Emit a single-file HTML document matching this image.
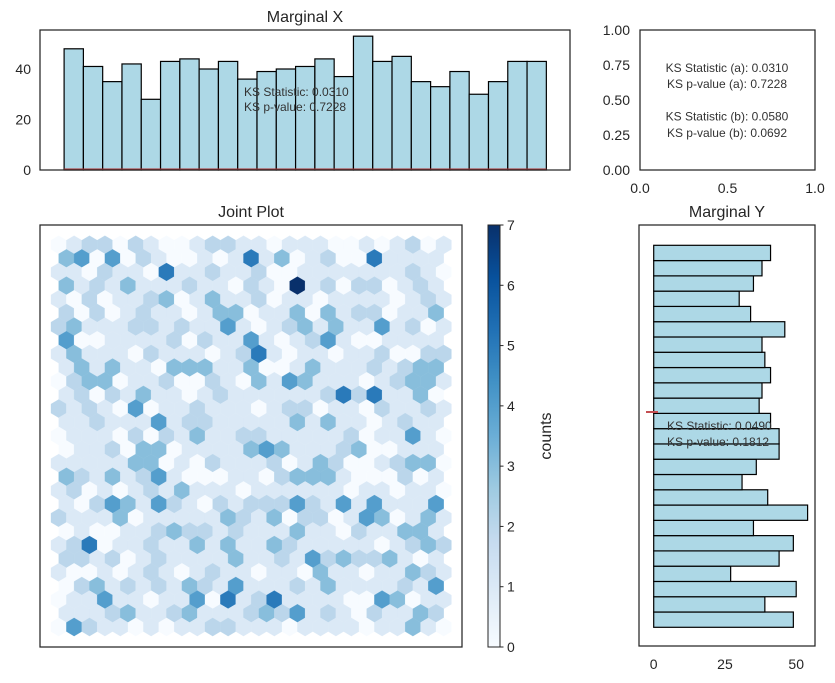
<!DOCTYPE html>
<html><head><meta charset="utf-8"><style>
html,body{margin:0;padding:0;background:#fff;width:835px;height:683px;overflow:hidden}
svg{display:block;font-family:"Liberation Sans",sans-serif}
</style></head><body>
<svg id="fig" width="835" height="683" viewBox="0 0 835 683">
<g id="mx"></g>
<g id="tb"></g>
<g id="jp"></g>
<g id="cb"></g>
<g id="my"></g>
</svg>
<script>
// ---- data ----
const histXCounts = [48,41,35,42,28,43,44,40,43,36,39,40,41,44,37,53,43,45,35,33,39,30,35,43,43];
const histXTicks = [0,20,40];
// bottom-to-top bins
const histYCounts = [49,39,50,27,44,49,35,54,40,31,36,44,44,41,37,38,41,39,38,46,34,30,35,38,41];
const histYTicks = [0,25,50];
const cbTicks = [0,1,2,3,4,5,6,7];
const tbTicks = ["0.00","0.25","0.50","0.75","1.00"];
const tbXTicks = ["0.0","0.5","1.0"];
const ksLinesBox = ["KS Statistic (a): 0.0310","KS p-value (a): 0.7228","","KS Statistic (b): 0.0580","KS p-value (b): 0.0692"];
// hexbin counts, rows from top; even rows 26 cells, odd rows 25 cells
const hexRows = [
[0,1,2,2,0,2,1,0,0,1,2,2,1,1,0,1,1,1,0,0,1,0,1,2,0,1],
[3,4,0,4,0,2,1,0,0,1,0,1,5,1,3,0,1,2,0,0,5,1,1,1,1],
[1,1,0,2,1,1,0,5,1,1,2,1,1,2,0,0,1,1,1,1,1,1,1,2,1,0],
[3,1,2,1,3,1,1,1,2,1,1,0,2,1,0,7,1,2,0,2,2,0,1,2,1],
[1,0,2,0,1,1,2,3,0,1,3,1,1,2,0,1,1,0,1,1,1,1,0,1,2,1],
[2,0,2,0,1,2,1,1,0,1,3,3,0,1,1,3,0,3,1,2,2,0,1,1,3],
[2,3,1,1,1,2,2,1,2,1,1,4,1,0,1,2,3,1,3,1,1,4,1,2,0,1],
[4,0,0,1,1,1,1,2,0,2,1,1,4,1,0,1,2,4,1,0,0,1,1,1,1],
[1,3,1,1,1,0,2,1,1,1,0,1,2,5,1,0,1,1,0,1,1,2,0,0,2,2],
[1,3,1,3,1,1,0,3,3,3,1,1,3,0,0,1,3,1,1,1,2,1,2,3,3],
[0,2,3,3,0,1,1,2,0,0,2,1,0,3,1,4,3,1,1,1,0,1,2,3,3,1],
[1,2,0,2,1,3,1,1,0,1,2,1,1,1,1,1,1,2,5,2,5,1,1,3,0],
[2,1,2,1,0,4,0,1,1,2,1,1,1,0,1,2,2,0,1,1,0,2,1,1,2,1],
[1,1,2,1,1,1,4,1,2,2,1,1,1,1,1,3,1,3,1,1,0,1,2,1,1],
[0,1,1,1,0,2,0,2,1,3,1,1,2,2,1,1,1,1,1,2,0,1,1,4,1,0],
[0,1,1,2,0,3,3,0,1,1,1,1,3,4,3,1,1,1,2,3,0,0,1,1,1],
[1,1,1,1,1,3,3,0,1,0,2,1,1,1,2,0,1,3,2,0,0,1,2,3,3,0],
[3,2,1,3,1,2,4,1,0,0,0,1,1,0,2,3,3,3,1,0,0,0,2,0,1],
[1,2,0,1,0,1,2,1,3,1,1,1,0,1,1,1,1,1,1,0,1,1,0,1,1,0],
[1,0,2,4,3,1,4,2,1,0,2,1,2,2,2,4,2,1,4,1,4,1,1,1,4],
[2,1,1,1,3,0,1,1,1,1,1,3,2,1,3,0,2,2,0,1,4,3,0,1,3,1],
[0,1,0,0,1,1,2,3,2,2,1,2,1,1,1,3,1,1,0,2,1,1,3,3,1],
[1,2,5,0,1,1,2,1,1,3,1,3,1,1,3,2,1,1,1,1,1,0,1,2,3,2],
[2,2,1,2,0,1,2,1,1,1,1,3,1,1,2,1,4,2,3,2,2,3,1,0,1],
[1,0,0,1,0,1,2,1,0,1,2,1,1,0,1,1,0,3,1,1,0,1,1,3,2,1],
[0,2,3,1,2,1,2,1,3,2,1,4,1,1,1,2,1,3,1,1,1,1,2,1,4],
[0,1,1,4,1,1,0,1,1,4,0,5,1,2,5,1,1,1,1,0,0,4,3,0,1,1],
[1,1,1,2,3,1,1,2,3,1,1,1,2,3,2,4,1,2,1,0,2,1,1,3,2],
[0,4,2,1,1,0,1,0,1,1,2,2,1,1,1,0,1,1,1,1,0,1,1,3,1,0]
];

const NS="http://www.w3.org/2000/svg";
const TXT="#262626";
const TITLE=16, TICK=14;
function mk(parent,tag,attrs,text){const e=document.createElementNS(NS,tag);for(const k in attrs)e.setAttribute(k,attrs[k]);if(text!==undefined)e.textContent=text;parent.appendChild(e);return e;}
const blues=[[247,251,255],[222,235,247],[198,219,239],[158,202,225],[107,174,214],[66,146,198],[33,113,181],[8,81,156],[8,48,107]];
function cmap(t){t=Math.max(0,Math.min(1,t))*8;const i=Math.min(7,Math.floor(t)),f=t-i;const a=blues[i],b=blues[i+1];
return "rgb("+a.map((v,k)=>Math.round(v+(b[k]-v)*f)).join(",")+")";}

// ---- Marginal X ----
const mx=document.getElementById('mx');
const MX={l:40,r:570,t:30,b:170,x0:64.1,bw:19.29,ppu:2.525};
const yX=v=>MX.b-v*MX.ppu;
let t=mk(mx,'text',{x:305,y:22,'text-anchor':'middle','font-size':TITLE,fill:TXT},'Marginal X');

histXCounts.forEach((c,i)=>{
  const r=mk(mx,'rect',{x:MX.x0+i*MX.bw,y:yX(c),width:MX.bw,height:c*MX.ppu,fill:'#add8e6',stroke:'#000','stroke-width':1.2});
  
});
t=mk(mx,'line',{x1:MX.x0,x2:MX.x0+25*MX.bw,y1:169.3,y2:169.3,stroke:'#b03030','stroke-width':1.6});

histXTicks.forEach(v=>{t=mk(mx,'text',{x:31,y:yX(v)+5,'text-anchor':'end','font-size':TICK,fill:TXT},String(v));
});
t=mk(mx,'text',{x:244,y:96,'font-size':12,fill:'#333'},'KS Statistic: 0.0310');
t=mk(mx,'text',{x:244,y:111,'font-size':12,fill:'#333'},'KS p-value: 0.7228');
t=mk(mx,'rect',{x:MX.l,y:MX.t,width:MX.r-MX.l,height:MX.b-MX.t,fill:'none',stroke:'#262626','stroke-width':1.25});


// ---- Text box axes ----
const tb=document.getElementById('tb');
const TB={l:640,r:815,t:30,b:170};
tbTicks.forEach((s,i)=>{const y=TB.b-i*(TB.b-TB.t)/4;t=mk(tb,'text',{x:630,y:y+5,'text-anchor':'end','font-size':TICK,fill:TXT},s);
});
tbXTicks.forEach((s,i)=>{const x=TB.l+i*(TB.r-TB.l)/2;t=mk(tb,'text',{x:x,y:193,'text-anchor':'middle','font-size':TICK,fill:TXT},s);
});
ksLinesBox.forEach((s,i)=>{if(!s)return;t=mk(tb,'text',{x:727,y:72+i*16.2,'text-anchor':'middle','font-size':12,fill:'#333'},s);
});
t=mk(tb,'rect',{x:TB.l,y:TB.t,width:TB.r-TB.l,height:TB.b-TB.t,fill:'none',stroke:'#262626','stroke-width':1.25});


// ---- Joint plot ----
const jp=document.getElementById('jp');
const JP={l:40,r:462,t:225,b:647,cx0:58.7,sx:15.4,cy0:244.8,sy:27.3,vmax:7};
t=mk(jp,'text',{x:251,y:217,'text-anchor':'middle','font-size':TITLE,fill:TXT},'Joint Plot');

hexRows.forEach((row,r)=>{
  const odd=r%2===1;const cy=JP.cy0+r*JP.sy/2;
  row.forEach((c,i)=>{
    const cx=JP.cx0+(odd?0.5:0)*JP.sx+i*JP.sx;const hx=JP.sx/2,hy=JP.sy/6,vy=JP.sy/3;
    const pts=[[cx+hx,cy+hy],[cx+hx,cy-hy],[cx,cy-vy],[cx-hx,cy-hy],[cx-hx,cy+hy],[cx,cy+vy]].map(p=>p[0].toFixed(2)+','+p[1].toFixed(2)).join(' ');
    const col=cmap(c/JP.vmax);
    const p=mk(jp,'polygon',{points:pts,fill:col,stroke:col,'stroke-width':0.3});
    
    
  });
});
t=mk(jp,'rect',{x:JP.l,y:JP.t,width:JP.r-JP.l,height:JP.b-JP.t,fill:'none',stroke:'#262626','stroke-width':1.25});


// ---- Colorbar ----
const cb=document.getElementById('cb');
const CB={l:488,r:500,t:225,b:647};
const defs=mk(cb,'defs',{});
const grad=mk(defs,'linearGradient',{id:'bluesGrad',x1:0,y1:1,x2:0,y2:0});
for(let k=0;k<=8;k++){mk(grad,'stop',{offset:(k/8),'stop-color':'rgb('+blues[k].join(',')+')'});}
t=mk(cb,'rect',{x:CB.l,y:CB.t,width:CB.r-CB.l,height:CB.b-CB.t,fill:'url(#bluesGrad)',stroke:'#262626','stroke-width':1});

cbTicks.forEach(v=>{const y=CB.b-v/7*(CB.b-CB.t);
t=mk(cb,'line',{x1:CB.r,x2:CB.r+3.5,y1:y,y2:y,stroke:'#262626','stroke-width':1});
t=mk(cb,'text',{x:507,y:y+5,'font-size':TICK,fill:TXT},String(v));});
t=mk(cb,'text',{x:551,y:436,'text-anchor':'middle','font-size':TITLE,fill:TXT,transform:'rotate(-90 551 436)'},'counts');


// ---- Marginal Y ----
const my=document.getElementById('my');
const MY={l:639,r:815,t:225,b:646,x0:653.7,ppu:2.85,ybot:627.3,bh:15.28};
const xY=v=>MY.x0+v*MY.ppu;
t=mk(my,'text',{x:727,y:217,'text-anchor':'middle','font-size':TITLE,fill:TXT},'Marginal Y');

histYCounts.forEach((c,i)=>{
  const r=mk(my,'rect',{x:MY.x0,y:MY.ybot-(i+1)*MY.bh,width:c*MY.ppu,height:MY.bh,fill:'#add8e6',stroke:'#000','stroke-width':1.2});
  
});
t=mk(my,'line',{x1:646,x2:658,y1:412,y2:412,stroke:'#c44e52','stroke-width':2});

t=mk(my,'text',{x:667,y:430,'font-size':12,fill:'#333'},'KS Statistic: 0.0490');
t=mk(my,'text',{x:667,y:446,'font-size':12,fill:'#333'},'KS p-value: 0.1812');
histYTicks.forEach(v=>{t=mk(my,'text',{x:xY(v),y:669,'text-anchor':'middle','font-size':TICK,fill:TXT},String(v));
});
t=mk(my,'rect',{x:MY.l,y:MY.t,width:MY.r-MY.l,height:MY.b-MY.t,fill:'none',stroke:'#262626','stroke-width':1.25});

</script>
</body></html>
